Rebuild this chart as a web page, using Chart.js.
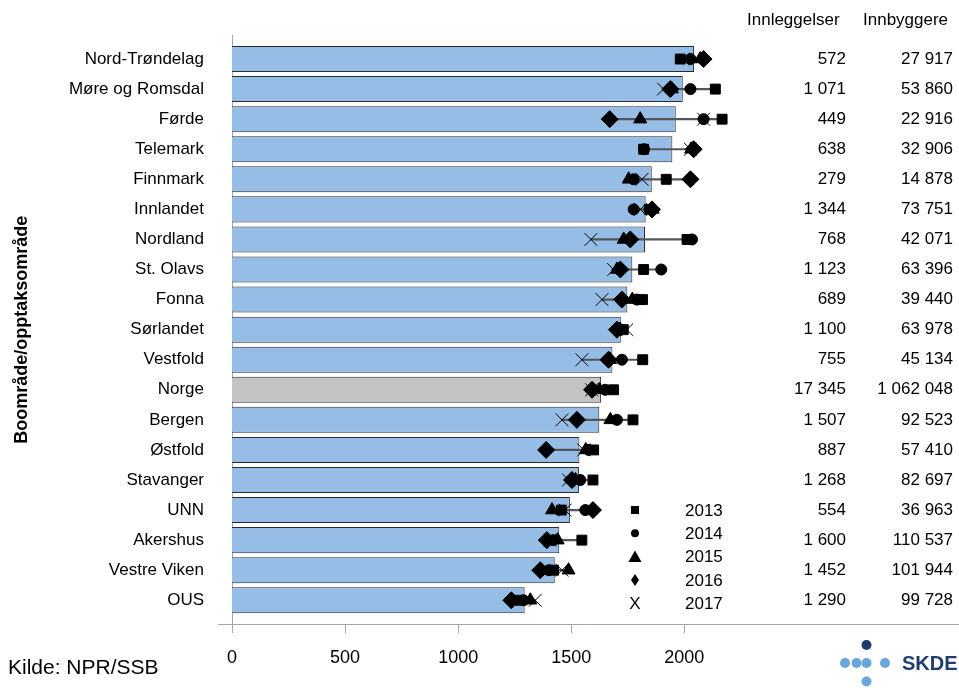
<!DOCTYPE html>
<html><head><meta charset="utf-8">
<script src="https://cdn.jsdelivr.net/npm/chart.js@4"></script>
<style>html,body{margin:0;padding:0;background:#fff}#wrap{width:959px;height:688px;position:relative}</style>
</head><body><div id="wrap"><canvas id="c" width="959" height="688"></canvas></div>
<script>
const categories = ['Nord-Trøndelag','Møre og Romsdal','Førde','Telemark','Finnmark','Innlandet','Nordland','St. Olavs','Fonna','Sørlandet','Vestfold','Norge','Bergen','Østfold','Stavanger','UNN','Akershus','Vestre Viken','OUS'];
const rateAvg = [2043,1993,1962,1947,1856,1829,1826,1770,1748,1719,1682,1632,1624,1536,1534,1494,1447,1427,1294];
const y2013 = [1982,2137,2167,1820,1920,1845,2012,1820,1815,1730,1816,1687,1773,1599,1596,1456,1547,1422,1274];
const y2014 = [2027,2027,2085,1822,1776,1776,2034,1898,1790,1720,1724,1650,1702,1577,1540,1562,1420,1401,1289];
const y2015 = [2070,1945,1805,2030,1754,1860,1732,1702,1770,1715,1672,1625,1673,1564,1519,1415,1440,1488,1319];
const y2016 = [2085,1938,1670,2041,2027,1857,1761,1717,1724,1702,1665,1592,1525,1389,1503,1596,1392,1363,1235];
const y2017 = [2050,1908,2085,2027,1813,1806,1587,1687,1636,1746,1547,1590,1459,1555,1488,1473,1407,1459,1341];
const innleggelser = [572,1071,449,638,279,1344,768,1123,689,1100,755,17345,1507,887,1268,554,1600,1452,1290];
const innbyggere = [27917,53860,22916,32906,14878,73751,42071,63396,39440,63978,45134,1062048,92523,57410,82697,36963,110537,101944,99728];
const xTicks = [0,500,1000,1500,2000];
const years = ['2013','2014','2015','2016','2017'];
const tableHeaders = ['Innleggelser','Innbyggere'];
const yTitle = 'Boområde/opptaksområde';
const sourceText = 'Kilde: NPR/SSB';

const FONT = '"Liberation Sans", Arial, sans-serif';
const series = [y2013, y2014, y2015, y2016, y2017];
const ranges = categories.map((_, i) => {
  const v = series.map(s => s[i]);
  return [Math.min(...v), Math.max(...v)];
});
const fmt = n => String(n).replace(/\B(?=(\d{3})+(?!\d))/g, ' ');

const markerDefs = [
  {pointStyle: 'rect', radius: 7},
  {pointStyle: 'circle', radius: 5.5},
  {pointStyle: 'triangle', radius: 7.5},
  {pointStyle: 'rectRot', radius: 8.5},
  {pointStyle: 'crossRot', radius: 9}
];

const datasets = [
  {
    type: 'bar', label: 'Rate', data: rateAvg, indexAxis: 'y', order: 20,
    backgroundColor: categories.map(c => c === 'Norge' ? '#c3c3c3' : '#95bde6'),
    borderColor: '#2a2a2a', borderWidth: 1, borderSkipped: 'start',
    barPercentage: 0.865, categoryPercentage: 1, grouped: false
  },
  {
    type: 'bar', label: 'Spenn', data: ranges, indexAxis: 'y', order: 10,
    backgroundColor: '#555555', borderWidth: 0, barThickness: 1.5, grouped: false, clip: false
  }
];
series.forEach((s, k) => {
  datasets.push({
    type: 'line', label: years[k], data: s, indexAxis: 'y', order: 4 - k,
    showLine: false, clip: false,
    pointStyle: markerDefs[k].pointStyle, pointRadius: markerDefs[k].radius,
    pointBackgroundColor: '#000', pointBorderColor: '#000', pointBorderWidth: 1,
    pointHoverRadius: markerDefs[k].radius
  });
});

const decor = {
  id: 'decor',
  beforeDatasetsDraw(chart) {
    const {ctx, scales: {x}} = chart;
    ctx.save();
    ctx.strokeStyle = '#a6a6a6';
    ctx.lineWidth = 1;
    ctx.beginPath();
    const x0 = Math.round(x.getPixelForValue(0)) + 0.5;
    ctx.moveTo(x0, 35); ctx.lineTo(x0, 633);
    ctx.moveTo(218, 624.5); ctx.lineTo(959, 624.5);
    xTicks.forEach(v => {
      const px = Math.round(x.getPixelForValue(v)) + 0.5;
      ctx.moveTo(px, 624); ctx.lineTo(px, 633);
    });
    ctx.stroke();
    ctx.restore();
  },
  afterDraw(chart) {
    const {ctx, scales: {y}} = chart;
    ctx.save();
    ctx.fillStyle = '#000';
    ctx.font = '17px ' + FONT;
    ctx.textBaseline = 'middle';
    ctx.textAlign = 'left';
    ctx.fillText(tableHeaders[0], 747, 20);
    ctx.fillText(tableHeaders[1], 863, 20);
    ctx.textAlign = 'right';
    categories.forEach((c, i) => {
      const py = y.getPixelForValue(i);
      ctx.fillText(fmt(innleggelser[i]), 846, py);
      ctx.fillText(fmt(innbyggere[i]), 953, py);
    });
    // legend
    years.forEach((yr, k) => {
      const ly = 510 + k * 23.3;
      const lx = 635;
      ctx.fillStyle = '#000';
      ctx.beginPath();
      if (k === 0) { ctx.rect(lx - 4, ly - 4, 8, 8); ctx.fill(); }
      else if (k === 1) { ctx.arc(lx, ly, 4, 0, Math.PI * 2); ctx.fill(); }
      else if (k === 2) { ctx.moveTo(lx, ly - 6); ctx.lineTo(lx + 6.5, ly + 5.5); ctx.lineTo(lx - 6.5, ly + 5.5); ctx.closePath(); ctx.fill(); }
      else if (k === 3) { ctx.moveTo(lx, ly - 6); ctx.lineTo(lx + 4, ly); ctx.lineTo(lx, ly + 6); ctx.lineTo(lx - 4, ly); ctx.closePath(); ctx.fill(); }
      else { ctx.textAlign = 'center'; ctx.font = '17px ' + FONT; ctx.fillText('X', lx, ly + 1); }
      ctx.textAlign = 'left';
      ctx.font = '17px ' + FONT;
      ctx.fillText(yr, 685, ly + 1);
    });
    // source
    ctx.font = '21px ' + FONT;
    ctx.textBaseline = 'alphabetic';
    ctx.textAlign = 'left';
    ctx.fillText(sourceText, 8, 674);
    // logo
    ctx.fillStyle = '#1f3c6e';
    ctx.beginPath(); ctx.arc(866.5, 645, 5, 0, Math.PI * 2); ctx.fill();
    ctx.fillStyle = '#6aa5dc';
    [[845, 663], [856.5, 663], [866.5, 663], [885, 663], [866.5, 681.5]].forEach(([cx, cy]) => {
      ctx.beginPath(); ctx.arc(cx, cy, 5, 0, Math.PI * 2); ctx.fill();
    });
    ctx.fillStyle = '#1f3c6e';
    ctx.font = 'bold 20px ' + FONT;
    ctx.textBaseline = 'middle';
    ctx.fillText('SKDE', 902, 664);
    ctx.restore();
  }
};

new Chart(document.getElementById('c'), {
  data: {labels: categories, datasets},
  options: {
    indexAxis: 'y',
    responsive: false,
    animation: false,
    events: [],
    layout: {padding: {top: 44, right: 48.5, bottom: 0, left: 0}},
    plugins: {legend: {display: false}, tooltip: {enabled: false}},
    scales: {
      x: {
        type: 'linear', min: 0, max: 3000,
        afterBuildTicks: s => { s.ticks = xTicks.map(v => ({value: v})); },
        afterFit: s => { s.height = 72.7; },
        grid: {display: false, drawTicks: false},
        border: {display: false},
        ticks: {font: {size: 18, family: FONT}, color: '#000', padding: 32, maxRotation: 0, callback: v => String(v)}
      },
      y: {
        type: 'category',
        afterFit: s => { s.width = 232; },
        grid: {display: false, drawTicks: false},
        border: {display: false},
        ticks: {font: {size: 17, family: FONT}, color: '#000', padding: 28, autoSkip: false},
        title: {display: true, text: yTitle, font: {size: 18, weight: 'bold', family: FONT}, color: '#000', padding: {top: 11, bottom: 0}}
      }
    }
  },
  plugins: [decor]
});
</script>
</body></html>
